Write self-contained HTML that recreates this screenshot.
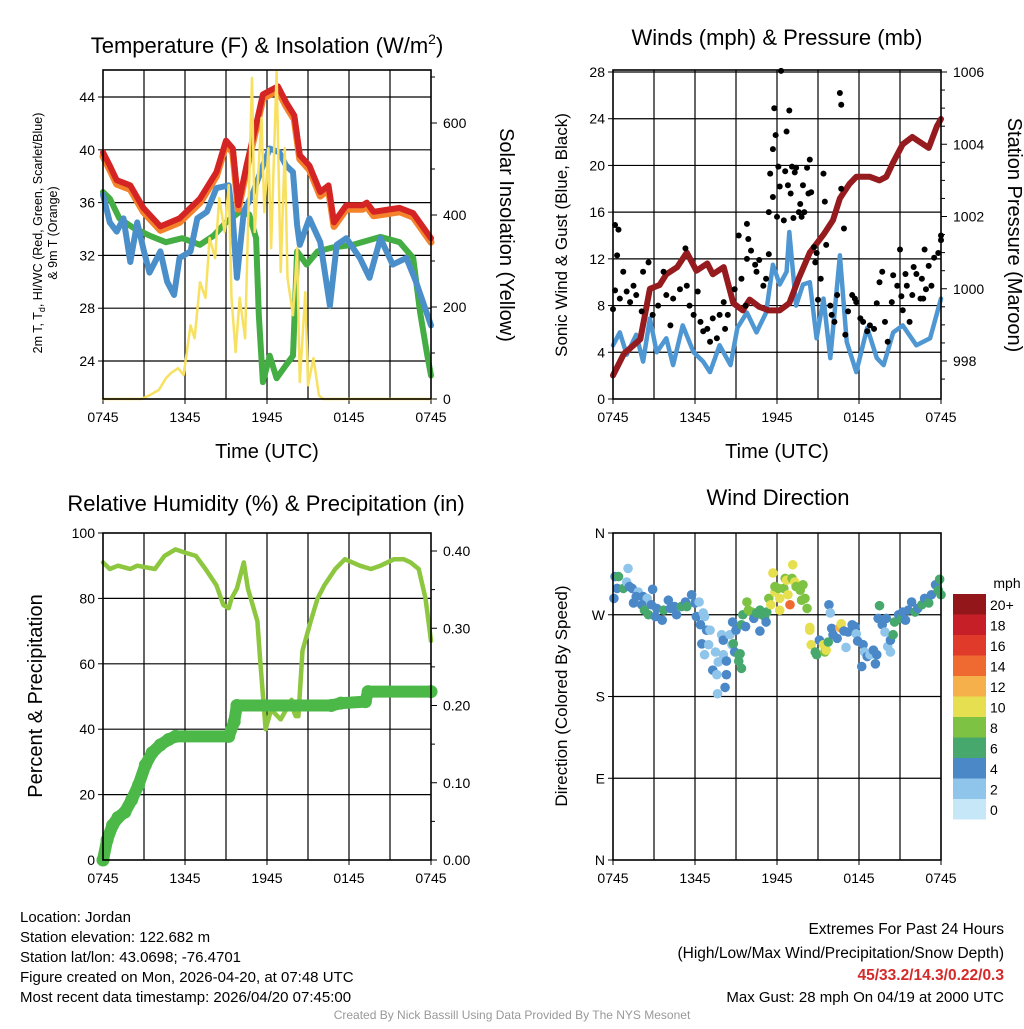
<!DOCTYPE html>
<html><head><meta charset="utf-8"><style>
body{margin:0;background:#fff;width:1024px;height:1024px;overflow:hidden;font-family:"Liberation Sans",sans-serif}
svg text{font-family:"Liberation Sans",sans-serif}
</style></head><body>
<svg id="c" width="1024" height="1024" xmlns="http://www.w3.org/2000/svg"></svg>
<script>
// ---- data ----
const xTickLabels=["0745","1345","1945","0145","0745"];
const tempT=[0,0.5,1,2,2.95,4.2,5.6,7.1,8.3,9,9.5,9.9,10.5,11.2,11.7,12.8,13.4,14,14.4,15.1,15.9,16.5,16.9,17.8,19,19.3,19.8,21.7,22.7,24];
const tempRed=[39.8,38.8,37.7,37.3,35.6,34.2,34.8,36.3,38.3,40.7,40.1,35.8,38.8,41.9,44.2,44.8,43.6,42.6,39.6,38.8,36.8,37.3,34.5,35.8,35.8,36.0,35.3,35.6,35.2,33.3];
const tempOrange=[39.5,38.5,37.4,37.0,35.3,33.9,34.5,36.0,38.0,40.4,39.8,35.5,38.5,41.6,43.9,44.5,43.3,42.3,39.3,38.5,36.5,37.0,34.2,35.5,35.5,35.7,35.0,35.3,34.9,33.0];
const blueT=[0,0.5,1,1.5,2,2.5,3,3.4,4.2,4.7,5.2,5.6,6.4,6.9,7.6,8.3,9.2,9.5,9.8,10.3,11,11.7,12.2,12.9,13.4,13.9,14.2,14.4,15.1,15.9,16.6,17.1,17.8,18.8,19.5,20.3,21.2,22.2,22.9,24];
const blueV=[36.6,34.5,33.8,34.8,31.5,34.5,32.3,30.7,32.3,30.0,29.0,31.8,32.3,34.8,35.3,37.1,37.3,34.8,30.3,35.3,36.8,38.8,40.1,39.8,38.8,38.3,34.3,32.8,34.8,33.0,28.2,32.8,33.3,31.8,30.3,33.3,31.3,31.8,30.0,26.7];
const greenT=[0,0.5,1.2,2.2,3.4,4.6,5.8,7.1,8.1,9,10,10.7,11.2,11.4,11.7,12.2,12.7,13.4,13.9,14.2,14.9,15.7,16.8,18.3,20.3,21.7,22.7,23.2,23.7,24];
const greenV=[36.8,36.3,34.8,34.1,33.5,33.0,33.3,32.8,33.5,34.5,35.3,35.1,33.3,27.5,22.4,24.4,22.7,23.7,24.4,32.3,31.3,32.3,32.6,32.8,33.4,33.0,31.8,27.7,24.6,22.9];
const solT=[0,2.8,3.4,4.1,4.6,5.0,5.5,5.9,6.4,6.7,7.1,7.5,7.8,8.2,8.5,8.9,9.2,9.4,9.7,10.0,10.4,10.6,10.9,11.1,11.4,11.6,11.8,12.1,12.3,12.7,13.0,13.3,13.5,13.9,14.2,14.4,14.8,15.0,15.4,15.8,16.1,24];
const solV=[0,0,8,20,45,57,67,52,160,132,254,220,350,306,437,363,465,220,102,220,132,363,698,363,508,611,406,545,328,711,276,545,263,182,328,37,232,30,89,8,0,0];
const windT=[0,0.5,1,1.7,2.2,2.7,3.2,3.9,4.4,5.1,5.9,6.6,7.1,7.8,8.6,9.1,9.8,10.5,11.2,11.7,12.2,12.7,12.9,13.4,13.9,14.4,14.9,15.4,15.9,16.6,17.1,17.8,18.6,19.3,19.8,20.5,21.2,22.2,23.2,24];
const windV=[4.6,5.7,3.8,5.5,3.2,6.9,4.0,5.2,2.9,6.3,4.0,3.2,2.3,4.6,2.9,6.1,7.4,5.7,7.4,11.5,9.8,10.9,14.3,8.0,9.8,10.0,5.2,8.6,3.5,12.3,4.9,2.3,6.1,3.5,2.9,5.7,6.3,4.6,5.2,8.6];
const presT=[0,0.8,2,2.7,3.4,3.9,4.7,5.4,6.1,6.9,7.3,8.1,8.8,9.5,10.0,10.7,11.4,12.2,12.9,13.6,14.4,15.4,16.1,16.6,17.3,17.8,18.8,19.5,20.0,20.5,21.2,21.9,22.7,23.1,23.7,24];
const presV=[997.6,998.2,998.6,1000.0,1000.1,1000.4,1000.6,1001.0,1000.5,1000.7,1000.4,1000.6,999.6,999.4,999.7,999.5,999.4,999.4,999.6,1000.3,1001.0,1001.5,1001.9,1002.5,1002.9,1003.1,1003.1,1003.0,1003.1,1003.5,1004.0,1004.2,1004.0,1003.9,1004.5,1004.7];
const gustT=[0.15,0.4,0.3,0.15,0,0.5,0.75,1.0,1.25,1.5,1.7,2.1,2.2,2.6,2.9,3.3,3.7,3.9,4.2,4.4,4.9,5.3,5.4,5.6,5.9,6.2,6.4,6.6,6.9,7.1,7.3,7.6,7.8,8.1,8.2,8.4,8.9,9.2,9.4,9.7,9.8,9.9,9.8,10.1,10.4,10.5,10.7,11.0,11.2,11.4,11.4,11.5,11.7,11.7,11.8,11.9,12.0,12.1,12.2,12.3,12.5,12.6,12.7,12.8,12.9,13.0,13.1,13.2,13.3,13.4,13.6,13.7,13.8,13.9,14.0,14.2,14.3,14.4,14.5,14.7,14.8,14.9,15.0,15.2,15.4,15.5,15.6,15.9,16.0,16.2,16.4,16.6,16.7,16.7,16.9,17.0,17.2,17.5,17.7,17.8,18.1,18.3,18.6,18.8,19.1,19.3,19.5,19.7,19.9,20.1,20.4,20.5,20.8,21.0,21.1,21.2,21.4,21.5,21.7,21.9,22.0,22.2,22.5,22.6,22.7,22.8,22.9,23.1,23.3,23.5,23.8,24.0,24.0];
const gustV=[14.9,14.5,12.3,9.3,7.7,8.6,10.9,9.2,8.3,9.7,8.9,7.5,10.9,11.7,7.2,8.0,10.9,8.9,6.3,8.6,9.4,12.9,9.7,8.0,7.2,9.2,6.6,5.8,6.0,4.9,6.9,5.2,7.2,8.3,6.0,7.2,9.4,14.0,10.3,8.0,15.0,13.7,12.0,12.7,11.5,10.9,11.9,9.7,10.3,12.4,16.0,19.3,21.4,17.3,24.9,22.6,15.6,19.9,18.2,28.1,15.3,19.5,22.9,18.3,24.7,17.6,19.9,15.5,19.4,19.8,16.0,16.7,15.6,18.3,16.0,19.8,17.6,20.5,17.7,13.0,11.7,12.5,8.5,10.3,19.3,16.9,13.2,8.0,7.2,6.6,8.9,26.2,25.2,18.0,14.6,5.5,7.5,8.9,8.6,8.3,6.9,6.6,5.8,6.3,6.0,8.2,10.0,10.9,6.6,4.9,8.3,10.6,9.7,12.8,8.8,7.6,10.7,9.7,6.6,8.9,11.3,10.7,8.6,10.3,8.6,12.8,9.4,11.4,9.7,12.1,12.5,14.0,13.6];
const rhT=[0,0.5,1.1,2.0,2.5,3.8,4.5,5.3,6.0,6.8,7.5,8.3,8.8,9.2,9.4,9.8,10.3,10.6,11.3,11.5,11.9,12.3,13.0,13.8,14.0,14.1,14.3,14.6,15.2,15.7,16.2,17.0,17.7,18.8,19.6,20.3,21.3,22.0,22.5,23.1,23.6,24];
const rhV=[91,89,90,89,90,89,93,95,94,93,89,84,78,77,80,83,91,83,73,61,40,46,43,49,45,44,44,64,73,80,84,89,92,90,89,90,92,92,91,89,80,67];
const prT=[0,0.3,0.7,1.1,1.6,2.1,2.6,3.1,3.6,4.2,4.8,5.3,9.2,9.6,9.8,16.7,17.4,19.2,19.4,24];
const prV=[0,0.026,0.045,0.055,0.062,0.078,0.097,0.123,0.139,0.149,0.156,0.160,0.160,0.179,0.2,0.2,0.203,0.205,0.218,0.218];
const dirT=[0.15,0.4,0.3,0.07,0.76,1.1,1.0,1.2,1.4,1.85,1.7,1.5,2.2,2.5,2.9,2.1,2.3,2.6,2.8,3.2,3.1,3.6,3.7,4.05,4.2,4.5,4.65,5.0,5.3,5.4,5.75,6.0,6.3,6.1,6.6,6.7,6.4,6.85,7.1,6.5,7.0,6.7,7.5,7.3,7.6,7.7,7.95,8.07,8.3,8.3,8.2,7.65,8.07,8.55,8.7,8.8,8.75,9.0,8.9,9.2,9.3,9.2,9.4,9.4,9.7,9.5,9.8,9.9,10.15,10.3,10.5,10.75,10.9,11.1,11.25,10.75,11.2,11.4,11.55,11.7,11.85,11.85,12.1,12.2,12.2,12.5,12.6,12.7,12.8,12.95,13.1,13.15,13.3,13.4,13.7,13.8,14.05,13.9,14.2,14.4,14.4,14.5,14.8,14.9,15.1,15.4,15.5,15.6,15.75,15.8,15.9,16.0,16.1,16.4,16.6,16.7,16.9,17.05,17.2,17.5,17.7,17.8,17.9,18.2,18.3,18.4,18.6,18.8,19.05,19.2,19.3,19.4,19.5,19.7,19.9,20.0,20.1,20.3,20.3,20.5,20.6,20.9,21.1,21.4,21.2,21.6,21.85,22.1,22.3,22.6,22.8,23.1,23.3,23.6,23.8,23.9,24.0];
const dirV=[312,312,299,288,299,321,306,301,299,295,290,283,290,288,298,281,275,270,281,277,268,264,275,286,277,279,270,279,284,279,292,283,284,268,272,268,259,253,253,238,237,226,229,209,204,218,248,226,219,204,190,183,242,248,237,238,262,253,229,226,227,219,211,259,257,270,284,275,273,266,272,275,270,268,273,252,262,288,281,316,295,301,299,288,275,299,310,308,292,281,310,325,306,301,297,286,288,303,277,256,253,237,229,226,242,237,229,231,240,281,272,255,248,244,256,260,252,234,251,259,257,249,241,213,237,229,224,226,231,216,226,266,280,259,251,266,235,229,242,248,262,270,266,264,273,275,284,273,277,281,288,283,292,303,297,309,292];
const dirSpd=[5,7,5,5,7,3,3,5,5,3,5,5,5,3,5,5,7,7,5,5,5,5,7,5,5,5,5,7,5,7,5,5,3,5,3,3,5,5,3,5,3,3,3,5,3,3,3,3,5,5,5,3,5,3,3,7,5,5,5,7,7,7,7,7,5,7,9,9,9,5,7,7,7,7,7,5,5,9,11,11,11,9,9,11,11,9,9,11,11,14,9,11,11,9,9,9,9,9,9,11,11,11,7,7,5,11,9,11,7,5,3,5,5,5,13,11,5,3,5,5,5,3,5,5,5,3,5,3,5,5,5,5,7,5,3,5,3,3,5,7,7,5,7,5,5,5,5,7,5,7,5,7,5,5,7,7,7];
const cbLabels=["0","2","4","6","8","10","12","14","16","18","20+"];
const cbColors=["#c6e7f8","#8fc5ea","#4a88c7","#46a86c","#7dc242","#e6df4f","#f6b04b","#ef6a31","#df3a2a","#c61f28","#93161b"];

const S=document.getElementById('c');const NS="http://www.w3.org/2000/svg";
function mk(tag,attrs,parent){const e=document.createElementNS(NS,tag);for(const k in attrs)e.setAttribute(k,attrs[k]);(parent||S).appendChild(e);return e;}
function txt(s,x,y,size,anchor,rot,parent,extra){const t=mk('text',Object.assign({x:x,y:y,'font-size':size,'text-anchor':anchor||'middle',fill:'#000'},extra||{}),parent);if(rot)t.setAttribute('transform','rotate('+rot+' '+x+' '+y+')');t.textContent=s;return t;}
function lin(d0,d1,r0,r1){return v=>r0+(v-d0)*(r1-r0)/(d1-d0);}
function poly(xs,ys,fx,fy,attrs,parent){let d='';for(let i=0;i<xs.length;i++)d+=(i?'L':'M')+fx(xs[i]).toFixed(1)+','+fy(ys[i]).toFixed(1);return mk('path',Object.assign({d:d,fill:'none','stroke-linejoin':'round','stroke-linecap':'round'},attrs),parent);}
function frame(g,x0,y0,x1,y1,hTicks,fy,tickLab,rightTicks,fyR,rLab,minorR){
  const fx=lin(0,24,x0,x1);
  for(let i=1;i<8;i++){const x=fx(i*3);const l=mk('line',{x1:x,y1:y0,x2:x,y2:y1,stroke:'#000','stroke-width':1.2},g);}
  hTicks.forEach((v,i)=>{const y=fy(v);if(y>y0+1&&y<y1-1){const l=mk('line',{x1:x0,y1:y,x2:x1,y2:y,stroke:'#000','stroke-width':1.2},g);}
    mk('line',{x1:x0-5,y1:y,x2:x0,y2:y,stroke:'#000','stroke-width':1},g);
    const t=txt(tickLab[i],x0-8,y+5,14,'end',0,g);});
  if(rightTicks)rightTicks.forEach((v,i)=>{const y=fyR(v);mk('line',{x1:x1,y1:y,x2:x1+6,y2:y,stroke:'#000','stroke-width':1},g);
    const t=txt(rLab[i],x1+12,y+5,14,'start',0,g);});
  if(minorR)minorR.forEach(v=>{const y=fyR(v);if(y>y0&&y<y1)mk('line',{x1:x1,y1:y,x2:x1+4,y2:y,stroke:'#000','stroke-width':1},g);});
  xTickLabels.forEach((s,i)=>{const x=fx(i*6);mk('line',{x1:x,y1:y1,x2:x,y2:y1+5,stroke:'#000'},g);const t=txt(s,x,y1+23,14,'middle',0,g);});
  return fx;
}
function box(g,x0,y0,x1,y1){const r=mk('rect',{x:x0,y:y0,width:x1-x0,height:y1-y0,fill:'none',stroke:'#000','stroke-width':1.6},g);}

// ---------- Panel 1 ----------
{
const g=mk('g',{});
const fy=lin(24,44,361,97), fyR=lin(0,600,399,123);
const fx=frame(g,103,70,431,399,[24,28,32,36,40,44],fy,["24","28","32","36","40","44"],[0,200,400,600],fyR,["0","200","400","600"],[100,300,500,700]);
const gp=poly(greenT,greenV,fx,fy,{stroke:'#44ad44','stroke-width':6},g);
const bp=poly(blueT,blueV,fx,fy,{stroke:'#4a8fc9','stroke-width':6},g);
const op=poly(tempT,tempOrange,fx,fy,{stroke:'#f4822a','stroke-width':7},g);
const rp=poly(tempT,tempRed,fx,fy,{stroke:'#d42424','stroke-width':6},g);
const yp=poly(solT,solV,fx,fyR,{stroke:'#f8e060','stroke-width':2.5},g);
box(g,103,70,431,399);
const t1=mk('text',{x:267,y:53,'font-size':22,'text-anchor':'middle'},g);
t1.innerHTML='Temperature (F) &amp; Insolation (W/m<tspan dy="-9" font-size="14">2</tspan><tspan dy="9">)</tspan>';
const yl=mk('text',{'font-size':12.5,'text-anchor':'middle',transform:'translate(42,233) rotate(-90)'},g);
yl.innerHTML='<tspan x="0" y="0">2m T, T<tspan font-size="9" dy="3">d</tspan><tspan dy="-3">, HI/WC (Red, Green, Scarlet/Blue)</tspan></tspan><tspan x="0" y="15">&amp; 9m T (Orange)</tspan>';
const yr=txt('Solar Insolation (Yellow)',500,235,20,'middle',90,g);
const xt=txt('Time (UTC)',267,458,20,'middle',0,g);
}
// ---------- Panel 2 ----------
{
const g=mk('g',{});
const fy=lin(0,28,399,72), fyR=lin(998,1006,361,72);
const fx=frame(g,613,70,941,399,[0,4,8,12,16,20,24,28],fy,["0","4","8","12","16","20","24","28"],[998,1000,1002,1004,1006],fyR,["998","1000","1002","1004","1006"],[997.5,998.5,999,999.5,1000.5,1001,1001.5,1002.5,1003,1003.5,1004.5,1005,1005.5]);
const wp=poly(windT,windV,fx,fy,{stroke:'#4f97d2','stroke-width':4.5},g);
const pp=poly(presT,presV,fx,fyR,{stroke:'#951b1e','stroke-width':6},g);
for(let i=0;i<gustT.length;i++){const c=mk('circle',{cx:fx(gustT[i]),cy:fy(gustV[i]),r:3,fill:'#000'},g);}
box(g,613,70,941,399);
const t=txt('Winds (mph) & Pressure (mb)',777,45,22,'middle',0,g);
const yl=txt('Sonic Wind & Gust (Blue, Black)',567,235,17,'middle',-90,g);
const yr=txt('Station Pressure (Maroon)',1008,235,20,'middle',90,g);
const xt=txt('Time (UTC)',777,458,20,'middle',0,g);
}
// ---------- Panel 3 ----------
{
const g=mk('g',{});
const fy=lin(0,100,860,533), fyR=lin(0,0.4,860,551);
const fx=frame(g,103,533,431,860,[0,20,40,60,80,100],fy,["0","20","40","60","80","100"],[0,0.1,0.2,0.3,0.4],fyR,["0.00","0.10","0.20","0.30","0.40"],[0.05,0.15,0.25,0.35]);
const rp=poly(rhT,rhV,fx,fy,{stroke:'#8dc63f','stroke-width':4.5},g);
const pp=poly(prT,prV,fx,fyR,{stroke:'#4cb848','stroke-width':12},g);
for(let i=0;i<prT.length;i++){const c=mk('circle',{cx:fx(prT[i]),cy:fyR(prV[i]),r:6.5,fill:'#4cb848'},g);}
box(g,103,533,431,860);
const t=txt('Relative Humidity (%) & Precipitation (in)',266,511,22,'middle',0,g);
const yl=txt('Percent & Precipitation',42,696,20,'middle',-90,g);
}
// ---------- Panel 4 ----------
{
const g=mk('g',{});
const fy=lin(0,360,860,533);
const fx=frame(g,613,533,941,860,[0,90,180,270,360],fy,["N","E","S","W","N"],null);
for(let i=0;i<dirT.length;i++){const bin=Math.min(10,Math.floor(dirSpd[i]/2));const c=mk('circle',{cx:fx(dirT[i]),cy:fy(dirV[i]),r:4.8,fill:cbColors[bin]},g);}
box(g,613,533,941,860);
const t=txt('Wind Direction',778,505,22,'middle',0,g);
const yl=txt('Direction (Colored By Speed)',567,696,17,'middle',-90,g);
const lg=mk('g',{},g);
txt('mph',1007,588,14,'middle',0,lg);
cbColors.forEach((c,i)=>{const y=799-i*20.5;const r=mk('rect',{x:953,y:y,width:33,height:20.5,fill:c},lg);
  const l=txt(cbLabels[i],990,y+16,14,'start',0,lg);});
}
// ---------- Footer ----------
{
const g=mk('g',{});
["Location: Jordan","Station elevation: 122.682 m","Station lat/lon: 43.0698; -76.4701","Figure created on Mon, 2026-04-20, at 07:48 UTC","Most recent data timestamp: 2026/04/20 07:45:00"].forEach((s,i)=>{const t=txt(s,20,922+i*20,15,'start',0,g);});
const a=txt('Extremes For Past 24 Hours',1004,934,15.5,'end',0,g);
const b=txt('(High/Low/Max Wind/Precipitation/Snow Depth)',1004,958,15.5,'end',0,g);
const c=txt('45/33.2/14.3/0.22/0.3',1004,980,15.5,'end',0,g,{fill:'#d42a2a','font-weight':'bold'});
const d=txt('Max Gust: 28 mph On 04/19 at 2000 UTC',1004,1002,15,'end',0,g);
const e=txt('Created By Nick Bassill Using Data Provided By The NYS Mesonet',512,1019,12,'middle',0,g,{fill:'#999'});
}
</script>
</body></html>
